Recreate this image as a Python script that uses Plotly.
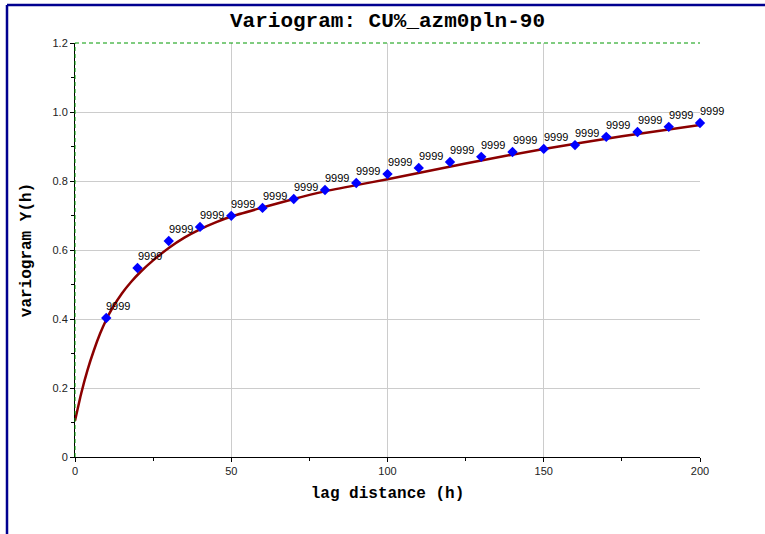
import plotly.graph_objects as go

# Experimental variogram points
lag = [10, 20, 30, 40, 50, 60, 70, 80, 90, 100, 110, 120, 130, 140, 150, 160, 170, 180, 190, 200]
gamma = [0.403, 0.548, 0.626, 0.667, 0.699, 0.722, 0.748, 0.774, 0.794, 0.820,
         0.838, 0.855, 0.870, 0.884, 0.893, 0.904, 0.928, 0.942, 0.957, 0.968]
pair_labels = ["9999"] * len(lag)

# Fitted model curve
model_x = [0, 2, 4, 6, 8, 10, 12, 15, 18, 21, 25, 30, 35, 40, 45, 50, 60, 70, 80, 90,
           100, 125, 150, 175, 200]
model_y = [0.105, 0.185, 0.252, 0.308, 0.357, 0.398, 0.432, 0.474, 0.508, 0.537, 0.570,
           0.606, 0.636, 0.660, 0.680, 0.697, 0.723, 0.748, 0.770, 0.788,
           0.805, 0.851, 0.893, 0.930, 0.962]

x_ticks = [0, 50, 100, 150, 200]
y_ticks = [0, 0.2, 0.4, 0.6, 0.8, 1.0, 1.2]
y_ticktext = ["0", "0.2", "0.4", "0.6", "0.8", "1.0", "1.2"]

mono = "Liberation Mono"

fig = go.Figure()
fig.add_trace(go.Scatter(x=model_x, y=model_y, mode="lines",
                         line=dict(color="#8B0000", width=2.5, shape="spline", smoothing=0.5),
                         hoverinfo="skip"))
fig.add_trace(go.Scatter(x=lag, y=gamma, mode="markers",
                         marker=dict(symbol="diamond", size=8, color="#0000FF"),
                         cliponaxis=False))

for xv, yv, t in zip(lag, gamma, pair_labels):
    fig.add_annotation(x=xv, y=yv, text=t, showarrow=False, xanchor="left", yanchor="bottom",
                       xshift=-2, yshift=4, font=dict(family="Arial", size=11, color="black"))

# green dashed frame lines (top and left)
fig.add_shape(type="line", xref="paper", yref="paper", x0=0, x1=1, y0=1, y1=1,
              line=dict(color="#009900", width=1, dash="4px,3px"))
fig.add_shape(type="line", xref="paper", yref="paper", x0=0, x1=0, y0=0, y1=1,
              line=dict(color="#009900", width=1, dash="4px,3px"))
# outer dark blue border (left and top)
fig.add_shape(type="line", xref="paper", yref="paper", x0=-0.1088, x1=-0.1088, y0=-0.2, y1=1.092,
              line=dict(color="#000090", width=2.5))
fig.add_shape(type="line", xref="paper", yref="paper", x0=-0.1088, x1=1.11, y0=1.092, y1=1.092,
              line=dict(color="#000090", width=2.5))

fig.update_layout(
    width=765, height=534,
    margin=dict(l=75, r=65, t=43, b=77),
    paper_bgcolor="white", plot_bgcolor="white",
    showlegend=False,
    title=dict(text="Variogram: CU%_azm0pln-90", x=0.5, xref="paper", xanchor="center",
               y=1 - 20 / 534, yref="container", yanchor="middle",
               font=dict(family=mono, size=21, color="black", weight="bold")),
    xaxis=dict(range=[0, 200], tickvals=x_ticks, showgrid=True, gridcolor="#CCCCCC", gridwidth=1,
               showline=True, linecolor="black", linewidth=1, ticks="outside", ticklen=4,
               tickcolor="black", zeroline=False,
               minor=dict(dtick=25, ticks="outside", ticklen=3, tickcolor="black", showgrid=False),
               tickfont=dict(family="Arial", size=11, color="#222222"),
               title=dict(text="lag distance (h)", standoff=10,
                          font=dict(family=mono, size=16, color="black", weight="bold"))),
    yaxis=dict(range=[0, 1.2], tickvals=y_ticks, ticktext=y_ticktext, showgrid=True,
               gridcolor="#CCCCCC", gridwidth=1, showline=True, linecolor="black", linewidth=1,
               ticks="outside", ticklen=4, tickcolor="black", zeroline=False,
               minor=dict(dtick=0.1, ticks="outside", ticklen=3, tickcolor="black", showgrid=False),
               tickfont=dict(family="Arial", size=11, color="#222222"),
               title=dict(text="variogram Y(h)", standoff=16,
                          font=dict(family=mono, size=16, color="black", weight="bold"))),
)

fig.write_html("out.html")
